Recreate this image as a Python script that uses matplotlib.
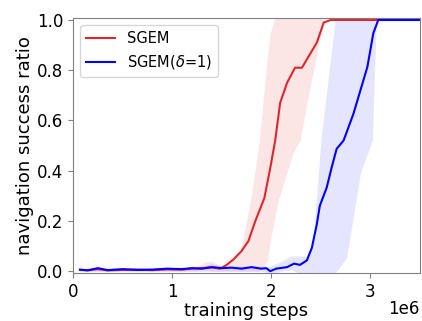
import matplotlib
matplotlib.use("Agg")
import matplotlib.pyplot as plt

# training steps (in millions) and success ratio
sgem_x = [0.07, 0.15, 0.25, 0.35, 0.5, 0.65, 0.8, 0.95, 1.1, 1.2, 1.3, 1.4,
          1.485, 1.55, 1.62, 1.7, 1.77, 1.84, 1.93, 1.99, 2.04, 2.09, 2.16,
          2.24, 2.31, 2.37, 2.46, 2.53, 2.6, 3.0, 3.5]
sgem_y = [0.005, 0.004, 0.008, 0.003, 0.005, 0.006, 0.004, 0.007, 0.006,
          0.01, 0.012, 0.015, 0.01, 0.025, 0.047, 0.08, 0.12, 0.2, 0.29,
          0.41, 0.52, 0.67, 0.75, 0.81, 0.81, 0.85, 0.91, 0.99, 1.0, 1.0, 1.0]
sgem_band_x = [0.07, 0.5, 1.0, 1.25, 1.32, 1.4, 1.5, 1.6, 1.69, 1.8, 1.88,
               1.96, 1.99, 2.07, 2.22, 2.29, 2.4, 2.53, 3.5]
sgem_lo = [0.0, 0.0, 0.0, 0.0, 0.005, 0.0, 0.0, 0.0, 0.0, 0.0, 0.0,
           0.04, 0.12, 0.28, 0.47, 0.52, 0.75, 1.0, 1.0]
sgem_hi = [0.01, 0.01, 0.012, 0.015, 0.035, 0.04, 0.02, 0.05, 0.08, 0.3,
           0.52, 0.85, 0.95, 1.05, 1.05, 1.05, 1.05, 1.0, 1.0]

delta_x = [0.07, 0.15, 0.25, 0.35, 0.5, 0.65, 0.8, 0.95, 1.1, 1.2, 1.3,
           1.4, 1.5, 1.6, 1.7, 1.8, 1.9, 1.95, 1.99, 2.05, 2.16, 2.23, 2.29,
           2.36, 2.41, 2.46, 2.49, 2.56, 2.61, 2.66, 2.73, 2.83, 2.9, 2.97,
           3.03, 3.08, 3.5]
delta_y = [0.006, 0.003, 0.012, 0.004, 0.008, 0.005, 0.006, 0.01, 0.008,
           0.012, 0.01, 0.016, 0.012, 0.014, 0.01, 0.016, 0.01, 0.012, 0.0,
           0.01, 0.016, 0.03, 0.025, 0.043, 0.093, 0.187, 0.26, 0.333, 0.413,
           0.487, 0.52, 0.627, 0.72, 0.813, 0.947, 1.0, 1.0]
delta_band_x = [0.07, 1.0, 1.3, 1.4, 1.5, 1.9, 2.0, 2.1, 2.2, 2.3, 2.35,
                2.42, 2.5, 2.6, 2.66, 2.76, 2.9, 3.02, 3.06, 3.5]
delta_lo = [0.0, 0.0, 0.0, 0.0, 0.0, 0.0, -0.01, 0.0, 0.005, -0.01, -0.03,
            -0.03, -0.03, -0.03, 0.0, 0.053, 0.39, 0.52, 1.0, 1.0]
delta_hi = [0.012, 0.015, 0.02, 0.03, 0.02, 0.02, 0.02, 0.04, 0.06, 0.06,
            0.06, 0.1, 0.52, 0.85, 1.05, 1.05, 1.05, 1.05, 1.0, 1.0]

scale = 1e6


def main():
    fig = plt.figure(figsize=(4.22, 3.21), dpi=100)
    ax = fig.add_axes([0.173, 0.149, 0.822, 0.795])

    ax.fill_between([v * scale for v in sgem_band_x], sgem_lo, sgem_hi,
                    color="#e03030", alpha=0.12, linewidth=0)
    ax.fill_between([v * scale for v in delta_band_x], delta_lo, delta_hi,
                    color="#3030ff", alpha=0.12, linewidth=0)
    ax.plot([v * scale for v in sgem_x], sgem_y, color="#e0262b",
            linewidth=1.5, label="SGEM")
    ax.plot([v * scale for v in delta_x], delta_y, color="#0000ff",
            linewidth=1.5, label=r"SGEM($\delta$=1)")

    ax.set_xlim(0, 3.5e6)
    ax.set_ylim(-0.008, 1.008)
    ax.set_xticks([0, 1e6, 2e6, 3e6])
    ax.set_yticks([0.0, 0.2, 0.4, 0.6, 0.8, 1.0])
    ax.tick_params(labelsize=12, color="#808080")
    ax.xaxis.get_offset_text().set_fontsize(12)
    ax.xaxis.OFFSETTEXTPAD = -1
    for s in ax.spines.values():
        s.set_color("#808080")
    ax.set_xlabel("training steps", fontsize=13, labelpad=1)
    ax.set_ylabel("navigation success ratio", fontsize=13, labelpad=2)
    ax.legend(loc="upper left", fontsize=10.5)
    fig.savefig("out.png")


if __name__ == "__main__":
    main()
